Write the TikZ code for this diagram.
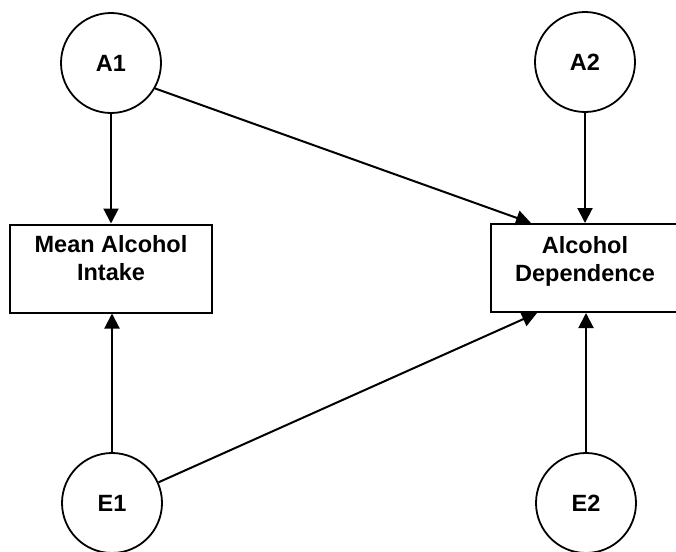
\documentclass[tikz,border=0pt]{standalone}
\usepackage{fontspec}
\setmainfont{Liberation Sans}
\usetikzlibrary{arrows.meta,calc}
\begin{document}
\begin{tikzpicture}[x=1pt,y=-1pt,
  latent/.style={circle,draw,line width=1.8pt,minimum size=100pt,inner sep=0pt,
    font=\fontsize{23.5}{28}\selectfont\bfseries},
  obsbox/.style={rectangle,draw,line width=2pt,minimum height=88pt,inner sep=0pt},
  lbl/.style={align=center,inner sep=0pt,font=\fontsize{23.5}{28}\selectfont\bfseries},
  path/.style={line width=2pt,-{Triangle[length=15pt,width=15pt]}}]
\useasboundingbox (0,0) rectangle (676,551);
\begin{scope}
\clip (0,0) rectangle (676,551);
\node[latent] (A1) at (111,63) {A1};
\node[latent] (A2) at (585,62) {A2};
\node[latent] (E1) at (112,503) {E1};
\node[latent] (E2) at (586,503) {E2};
\node[obsbox,minimum width=202pt] (MAI) at (111,268.5) {};
\node[obsbox,minimum width=188pt] (AD) at (585,268) {};
\node[lbl] (MAIt) at (111,258) {Mean Alcohol\\Intake};
\node[lbl] (ADt) at (585,261) {Alcohol\\Dependence};
\coordinate (ADin1) at ($(AD.north west)+(41,0)$);
\coordinate (ADin2) at ($(AD.south west)+(47,0)$);
\draw[path] (A1.south) -- (A1.south |- MAI.north);
\draw[path] (E1.north) -- (E1.north |- MAI.south);
\draw[path] (A2.south) -- (A2.south |- AD.north);
\draw[path] (E2.north) -- (E2.north |- AD.south);
\draw[path] (A1.-30) -- (ADin1);
\draw[path] (E1.24) -- (ADin2);
\end{scope}
\end{tikzpicture}
\end{document}
